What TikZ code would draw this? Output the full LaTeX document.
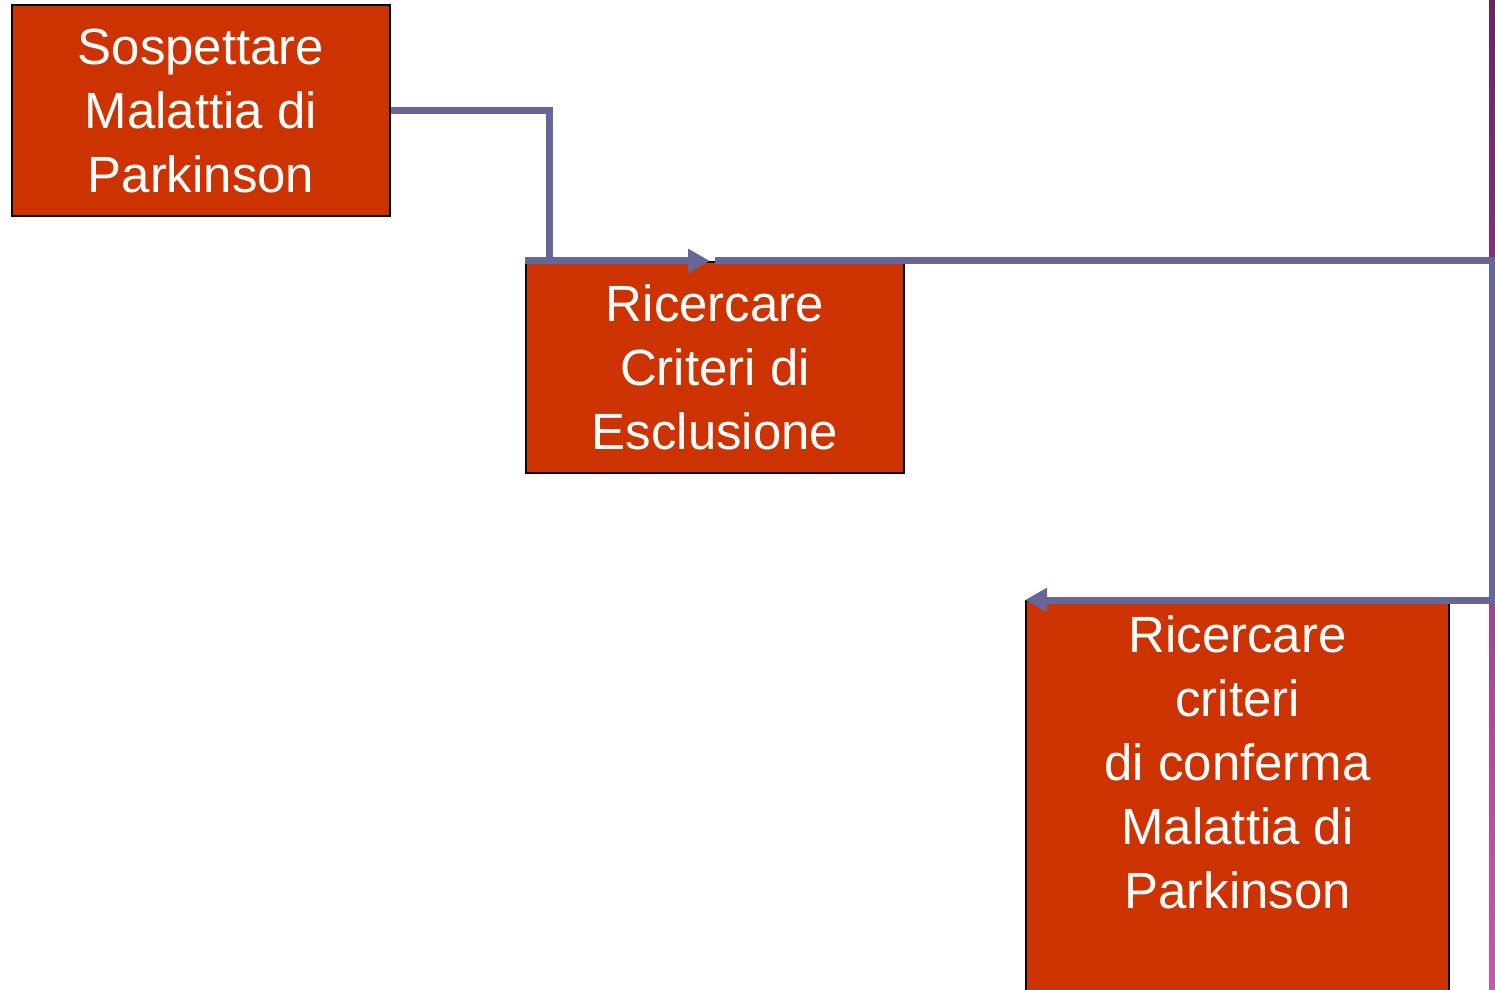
\documentclass[tikz,border=0pt]{standalone}
\usepackage{fontspec}
\setmainfont{Liberation Sans}
\usepackage{xcolor}
\usepackage{tikz}
\usetikzlibrary{arrows.meta,positioning}

\definecolor{boxred}{RGB}{204,51,0}
\definecolor{linkblue}{RGB}{102,102,153}
\definecolor{rimtop}{RGB}{110,35,95}
\definecolor{rimbot}{RGB}{192,90,176}

\begin{document}
\begin{tikzpicture}[
  box/.style={rectangle, draw=black, line width=0.6pt, fill=boxred,
    minimum width=3.78cm, minimum height=2.11cm, inner sep=0pt},
  txt/.style={text=white, align=center, font=\fontsize{14.5}{18.2}\selectfont},
  link/.style={draw=linkblue, line width=2pt},
  tip/.style={-{Triangle[length=0.22cm, width=0.23cm]}},
]
  \useasboundingbox (0,0) rectangle (14.95,-9.89);
  \clip (0,0) rectangle (14.95,-9.89);

  % slide edge
  \shade[top color=rimtop, bottom color=rimbot] (14.89,0) rectangle (14.95,-9.89);

  \node[box, txt] (sosp) at (2.01,-1.105) {Sospettare\\Malattia di\\Parkinson};
  \node[box, txt] (excl) at (7.15,-3.675) {Ricercare\\Criteri di\\Esclusione};
  \node[box, anchor=north west, minimum width=4.23cm, minimum height=4.2cm] (conf) at (10.25,-6.0) {};
  \node[txt] (conftxt) at ([yshift=-1.62cm]conf.north) {Ricercare\\criteri\\di conferma\\Malattia di\\Parkinson};

  \coordinate (bend) at ([xshift=0.25cm]excl.north west);
  \coordinate (rim) at (14.92,-2.63);

  \draw[link] (sosp.east) -| (bend);
  \draw[link, tip] (excl.north west) -- ([xshift=-0.05cm]excl.north);
  \draw[link, tip] (excl.north) -- (excl.north -| rim) |- (conf.north west);
\end{tikzpicture}
\end{document}
